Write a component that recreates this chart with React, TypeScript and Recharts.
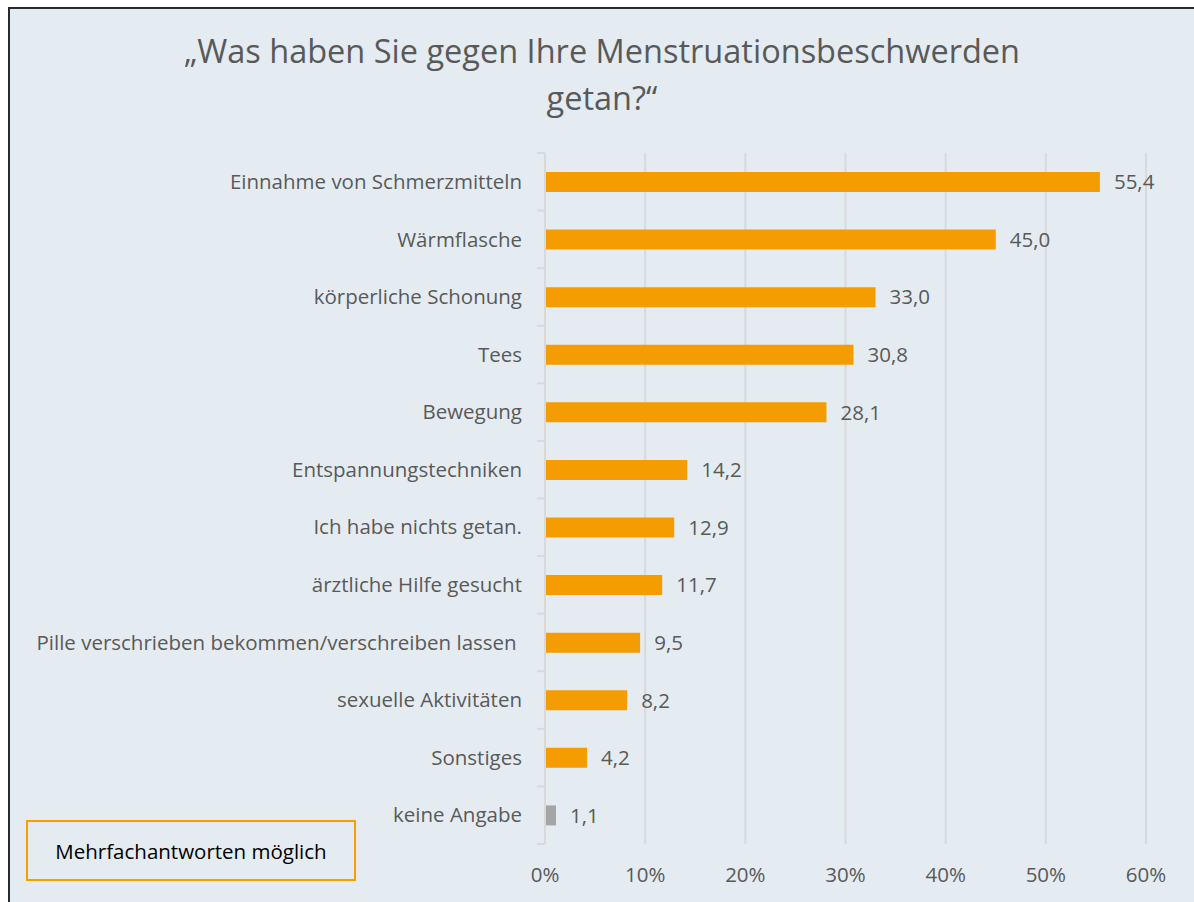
import React from "react"
import {
  BarChart, Bar, XAxis, YAxis, CartesianGrid, Cell, LabelList,
} from "recharts"

const CATEGORIES = [
  "Einnahme von Schmerzmitteln",
  "Wärmflasche",
  "körperliche Schonung",
  "Tees",
  "Bewegung",
  "Entspannungstechniken",
  "Ich habe nichts getan.",
  "ärztliche Hilfe gesucht",
  "Pille verschrieben bekommen/verschreiben lassen ",
  "sexuelle Aktivitäten",
  "Sonstiges",
  "keine Angabe",
]

const VALUES = [55.4, 45.0, 33.0, 30.8, 28.1, 14.2, 12.9, 11.7, 9.5, 8.2, 4.2, 1.1]

const X_TICKS = [0, 10, 20, 30, 40, 50, 60]

const data = CATEGORIES.map((name, i) => ({ name, value: VALUES[i] }))

const W = 1194
const H = 902
const PLOT_TOP = 153
const PLOT_BOTTOM = 844
const AXIS_X = 545
const BAND = (PLOT_BOTTOM - PLOT_TOP) / CATEGORIES.length

const FONT = "'Open Sans', sans-serif"
const TEXT = "#595959"
const GRID = "#d9d9d9"

// category label plus Excel-style tick marks between categories
function CategoryTick(props: any) {
  const { x, y, payload, index } = props
  const last = index === CATEGORIES.length - 1
  return (
    <g>
      <line x1={AXIS_X - 8} x2={AXIS_X} y1={y - BAND / 2} y2={y - BAND / 2} stroke={GRID} strokeWidth={2} />
      {last && (
        <line x1={AXIS_X - 8} x2={AXIS_X} y1={y + BAND / 2} y2={y + BAND / 2} stroke={GRID} strokeWidth={2} />
      )}
      <text
        x={x} y={y} dy="0.35em" textAnchor="end" fill={TEXT}
        fontSize={20.5} fontFamily={FONT} style={{ whiteSpace: "pre" }}
      >
        {payload.value}
      </text>
    </g>
  )
}

export default function App() {
  return (
    <div style={{ position: "absolute", left: 0, top: 0, width: W, height: H, background: "#fff", overflow: "hidden" }}>
      <div
        style={{
          position: "absolute", left: 8, top: 7, width: W, height: H,
          background: "#e4ecf2", borderLeft: "2px solid #2b2b2b", borderTop: "2px solid #2b2b2b",
        }}
      />
      <div
        style={{
          position: "absolute", left: 0, top: 27, width: 1204, textAlign: "center",
          fontFamily: FONT, fontSize: 32.5, color: TEXT, lineHeight: "47px",
        }}
      >
        „Was haben Sie gegen Ihre Menstruationsbeschwerden<br />getan?“
      </div>

      <div style={{ position: "absolute", left: 0, top: 0 }}>
        <BarChart
          width={W}
          height={H}
          data={data}
          layout="vertical"
          margin={{ top: PLOT_TOP, right: W - 1146, bottom: 8, left: 10 }}
          barSize={20}
        >
          <CartesianGrid horizontal={false} stroke={GRID} strokeWidth={2} />
          <XAxis
            type="number"
            domain={[0, 60]}
            ticks={X_TICKS}
            tickFormatter={(v) => `${v}%`}
            axisLine={false}
            tickLine={false}
            tickMargin={17}
            height={50}
            tick={{ fill: TEXT, fontSize: 20.5, fontFamily: FONT }}
          />
          <YAxis
            type="category"
            dataKey="name"
            width={AXIS_X - 10}
            axisLine={{ stroke: GRID, strokeWidth: 2 }}
            tickLine={false}
            tickMargin={17}
            tick={<CategoryTick />}
            interval={0}
          />
          <Bar dataKey="value" isAnimationActive={false}>
            {data.map((d) => (
              <Cell key={d.name} fill={d.name === "keine Angabe" ? "#a5a5a5" : "#f59d00"} />
            ))}
            <LabelList
              dataKey="value"
              position="right"
              offset={14}
              formatter={(v: any) => Number(v).toFixed(1).replace(".", ",")}
              style={{ fill: TEXT, fontSize: 20.5, fontFamily: FONT }}
            />
          </Bar>
        </BarChart>
      </div>

      <div
        style={{
          position: "absolute", left: 26, top: 820, width: 330, height: 61,
          border: "2px solid #f5a000", boxSizing: "border-box",
          display: "flex", alignItems: "center", justifyContent: "center",
          fontFamily: FONT, fontSize: 20.5, color: "#000",
        }}
      >
        Mehrfachantworten möglich
      </div>
    </div>
  )
}
